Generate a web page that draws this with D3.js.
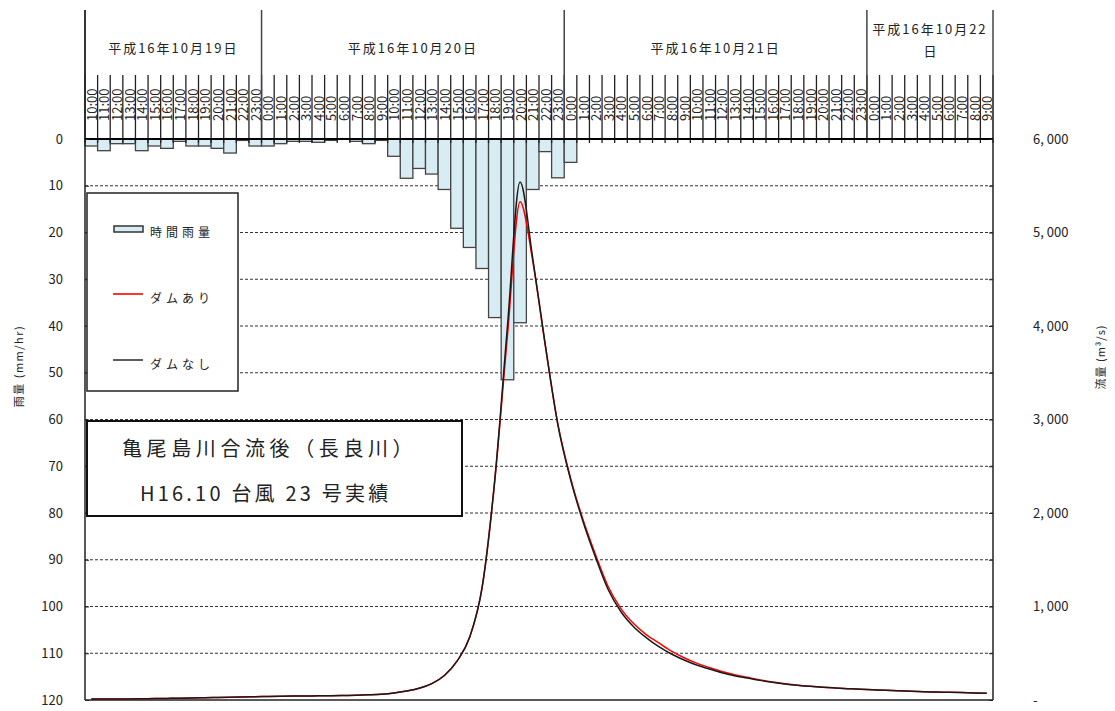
<!DOCTYPE html>
<html>
<head>
<meta charset="utf-8">
<script src="https://cdn.jsdelivr.net/npm/d3@7"></script>
<style>
body { margin: 0; background: #fff; }
text { font-family: "Noto Sans CJK JP", "Noto Sans", sans-serif; fill: #222; }
</style>
</head>
<body>
<svg width="1115" height="711"></svg>
<script>
// hourly categories, 10/19 10:00 .. 10/22 9:00
var hourLabels = [
  "10:00","11:00","12:00","13:00","14:00","15:00","16:00","17:00","18:00","19:00","20:00","21:00","22:00","23:00",
  "0:00","1:00","2:00","3:00","4:00","5:00","6:00","7:00","8:00","9:00","10:00","11:00","12:00","13:00","14:00","15:00","16:00","17:00","18:00","19:00","20:00","21:00","22:00","23:00",
  "0:00","1:00","2:00","3:00","4:00","5:00","6:00","7:00","8:00","9:00","10:00","11:00","12:00","13:00","14:00","15:00","16:00","17:00","18:00","19:00","20:00","21:00","22:00","23:00",
  "0:00","1:00","2:00","3:00","4:00","5:00","6:00","7:00","8:00","9:00"
];
var dayLabels = ["平成16年10月19日", "平成16年10月20日", "平成16年10月21日", "平成16年10月22日"];

// 時間雨量 (mm/hr)
var rain = [
  1.5, 2.5, 1, 1, 2.5, 1.5, 2, 0.5, 1.5, 1.5, 2, 3, 0.3, 1.5,
  1.5, 1, 0.5, 0.5, 0.7, 0.3, 0, 0.5, 1, 0.3, 3.7, 8.4, 6.3, 7.5, 10.8, 19.1, 23.2, 27.7, 38.2, 51.5, 39.3, 10.8, 2.7, 8.3,
  5, 0, 0, 0, 0, 0, 0, 0, 0, 0, 0, 0, 0, 0, 0, 0, 0, 0, 0, 0, 0, 0, 0, 0,
  0, 0, 0, 0, 0, 0, 0, 0, 0, 0
];

// ダムなし (m3/s)
var flowNoDam = [
  10, 10, 10, 12, 14, 15, 17, 20, 22, 25, 28, 30, 33, 36,
  38, 40, 42, 43, 45, 46, 48, 50, 55, 62, 75, 96, 125, 175, 262, 415, 670, 1212, 2360, 4000, 5540, 4727, 3797, 2941,
  2360, 1904, 1520, 1176, 944, 784, 667, 570, 492, 428, 374, 332, 292, 260, 235, 210, 189, 171, 157, 146, 136, 128, 121, 114,
  109, 104, 99, 94, 89, 85, 82, 79, 76, 73
];

// ダムあり (m3/s)
var flowDam = [
  10, 10, 10, 12, 14, 15, 17, 20, 22, 25, 28, 30, 33, 36,
  38, 40, 42, 43, 45, 46, 48, 50, 55, 62, 75, 96, 125, 175, 262, 415, 670, 1212, 2360, 3900, 5330, 4700, 3790, 2950,
  2375, 1925, 1548, 1208, 978, 818, 700, 610, 522, 452, 394, 348, 304, 270, 243, 216, 193, 174, 158, 146, 136, 128, 121, 114,
  109, 104, 99, 94, 89, 85, 82, 79, 76, 73
];

var rainTicks = d3.range(0, 121, 10);
var flowTicks = d3.range(0, 6001, 1000);
var flowMinorTicks = d3.range(0, 6001, 500);

var svg = d3.select("svg");
var left = 85, right = 993, top0 = 139, bottom = 700;

var x = d3.scaleBand()
  .domain(d3.range(hourLabels.length))
  .range([left, right])
  .padding(0);
var yRain = d3.scaleLinear().domain([0, 120]).range([top0, bottom]);
var yFlow = d3.scaleLinear().domain([0, 6000]).range([bottom, top0]);
var bw = x.bandwidth();

// dashed grid
svg.append("g").selectAll("line")
  .data(rainTicks.filter(function(d) { return d > 0 && d < 120; }))
  .enter().append("line")
  .attr("x1", left).attr("x2", right)
  .attr("y1", function(d) { return yRain(d); })
  .attr("y2", function(d) { return yRain(d); })
  .attr("stroke", "#333")
  .attr("stroke-width", 1)
  .attr("stroke-dasharray", "3,2");

// rain bars
svg.append("g").selectAll("rect")
  .data(rain.map(function(v, i) { return {i: i, v: v}; }).filter(function(d) { return d.v > 0; }))
  .enter().append("rect")
  .attr("x", function(d) { return x(d.i); })
  .attr("width", bw)
  .attr("y", yRain(0))
  .attr("height", function(d) { return yRain(d.v) - yRain(0); })
  .attr("fill", "#d7ecf3")
  .attr("stroke", "#444")
  .attr("stroke-width", 1.3);

// hour lines in header (also ticks under the 0 line)
svg.append("g").selectAll("line")
  .data(d3.range(hourLabels.length + 1))
  .enter().append("line")
  .attr("x1", function(i) { return left + i * bw; })
  .attr("x2", function(i) { return left + i * bw; })
  .attr("y1", 75).attr("y2", top0 + 4)
  .attr("stroke", "#222")
  .attr("stroke-width", 1.3);

// hour labels
svg.append("g").selectAll("text")
  .data(hourLabels)
  .enter().append("text")
  .attr("transform", function(d, i) { return "translate(" + (x(i) + bw / 2) + ",121) rotate(-90)"; })
  .attr("dominant-baseline", "central")
  .style("font-size", "13px")
  .attr("fill", "#111")
  .text(function(d) { return d; });

// day segments from the "0:00" positions
var starts = [0];
hourLabels.forEach(function(d, i) { if (i > 0 && d === "0:00") starts.push(i); });
var days = starts.map(function(s, k) {
  var e = k + 1 < starts.length ? starts[k + 1] : hourLabels.length;
  return {label: dayLabels[k], x0: left + s * bw, x1: left + e * bw};
});

svg.append("g").selectAll("line")
  .data(days.map(function(d) { return d.x0; }).concat([right]))
  .enter().append("line")
  .attr("x1", function(d) { return d; }).attr("x2", function(d) { return d; })
  .attr("y1", 10).attr("y2", top0)
  .attr("stroke", "#444")
  .attr("stroke-width", 1.5);

days.forEach(function(d) {
  var t = svg.append("text")
    .attr("x", (d.x0 + d.x1) / 2)
    .attr("y", 47)
    .attr("text-anchor", "middle")
    .attr("dominant-baseline", "central")
    .style("font-size", "13px")
    .style("letter-spacing", "2px")
    .text(d.label);
  if (t.node().getComputedTextLength() > d.x1 - d.x0 - 4) {
    var s = d.label;
    t.attr("y", 28).text(s.slice(0, s.length - 1));
    svg.append("text")
      .attr("x", (d.x0 + d.x1) / 2)
      .attr("y", 50)
      .attr("text-anchor", "middle")
      .attr("dominant-baseline", "central")
      .style("font-size", "13px")
      .text(s.slice(-1));
  }
});

// frame lines
svg.append("line").attr("x1", left).attr("x2", left).attr("y1", 10).attr("y2", bottom)
  .attr("stroke", "#222").attr("stroke-width", 1.5);
svg.append("line").attr("x1", right).attr("x2", right).attr("y1", top0).attr("y2", bottom)
  .attr("stroke", "#222").attr("stroke-width", 1.5);
svg.append("line").attr("x1", left).attr("x2", right).attr("y1", top0).attr("y2", top0)
  .attr("stroke", "#000").attr("stroke-width", 2);
svg.append("line").attr("x1", left).attr("x2", right).attr("y1", bottom).attr("y2", bottom)
  .attr("stroke", "#222").attr("stroke-width", 1.5);

// left axis: inward ticks + labels
var gl = svg.append("g").attr("transform", "translate(" + left + ",0)")
  .call(d3.axisRight(yRain).tickValues(rainTicks).tickSize(4).tickFormat(""));
gl.select(".domain").remove();
gl.selectAll("line").attr("stroke", "#222");
var gll = svg.append("g").attr("transform", "translate(" + left + ",0)")
  .call(d3.axisLeft(yRain).tickValues(rainTicks).tickSize(0).tickPadding(22));
gll.select(".domain").remove();
gll.selectAll("text").style("font-size", "13px").style("font-family", "'Noto Sans CJK JP'").attr("fill", "#333");

// right axis
var gr = svg.append("g").attr("transform", "translate(" + right + ",0)")
  .call(d3.axisLeft(yFlow).tickValues(flowMinorTicks).tickSize(4).tickFormat(""));
gr.select(".domain").remove();
gr.selectAll("line").attr("stroke", "#222");
var grl = svg.append("g").attr("transform", "translate(" + right + ",0)")
  .call(d3.axisRight(yFlow).tickValues(flowTicks).tickSize(0).tickPadding(40)
    .tickFormat(function(v) { return v === 0 ? "-" : d3.format(",")(v).replace(",", ", "); }));
grl.select(".domain").remove();
grl.selectAll("text").style("font-size", "13px").style("font-family", "'Noto Sans CJK JP'").attr("fill", "#333");

// axis titles
svg.append("text")
  .attr("transform", "translate(18,366) rotate(-90)")
  .attr("text-anchor", "middle").attr("dominant-baseline", "central")
  .style("font-size", "11px").style("letter-spacing", "1.5px").attr("fill", "#444")
  .text("雨量 (mm/hr)");
svg.append("text")
  .attr("transform", "translate(1100,357) rotate(-90)")
  .attr("text-anchor", "middle").attr("dominant-baseline", "central")
  .style("font-size", "11px").style("letter-spacing", "1px").attr("fill", "#444")
  .text("流量 (m³/s)");

// flow lines
var line = d3.line()
  .x(function(d, i) { return x(i) + bw / 2; })
  .y(function(d) { return yFlow(d); })
  .curve(d3.curveMonotoneX);

svg.append("path").datum(flowDam)
  .attr("d", line).attr("fill", "none")
  .attr("stroke", "#ff0000").attr("stroke-width", 1.5);
svg.append("path").datum(flowNoDam)
  .attr("d", line).attr("fill", "none")
  .attr("stroke", "#1a1a1a").attr("stroke-width", 1.5);

// legend
var lg = svg.append("g");
lg.append("rect").attr("x", 87).attr("y", 193).attr("width", 151).attr("height", 198)
  .attr("fill", "#fff").attr("stroke", "#222").attr("stroke-width", 1.5);
var legendItems = [
  {name: "時間雨量", type: "bar"},
  {name: "ダムあり", type: "line", color: "#ff0000"},
  {name: "ダムなし", type: "line", color: "#333"}
];
legendItems.forEach(function(d, k) {
  var cy = 230 + k * 66;
  if (d.type === "bar") {
    lg.append("rect").attr("x", 114).attr("y", cy - 4).attr("width", 29).attr("height", 6)
      .attr("fill", "#d7ecf3").attr("stroke", "#333").attr("stroke-width", 1.5);
  } else {
    lg.append("line").attr("x1", 113).attr("x2", 143).attr("y1", cy - 2).attr("y2", cy - 2)
      .attr("stroke", d.color).attr("stroke-width", 1.6);
  }
  lg.append("text").attr("x", 150).attr("y", cy + 1)
    .attr("dominant-baseline", "central")
    .style("font-size", "12px").style("letter-spacing", "4px")
    .text(d.name);
});

// title box
var tb = svg.append("g");
tb.append("rect").attr("x", 87).attr("y", 421).attr("width", 375).attr("height", 95)
  .attr("fill", "#fff").attr("stroke", "#111").attr("stroke-width", 2);
tb.append("text").attr("x", 122).attr("y", 447)
  .attr("dominant-baseline", "central")
  .style("font-size", "20px").style("letter-spacing", "4.6px")
  .text("亀尾島川合流後（長良川）");
tb.append("text").attr("x", 140).attr("y", 492)
  .attr("dominant-baseline", "central")
  .style("font-size", "20px").style("letter-spacing", "3.2px")
  .text("H16.10 台風 23 号実績");
</script>
</body>
</html>
